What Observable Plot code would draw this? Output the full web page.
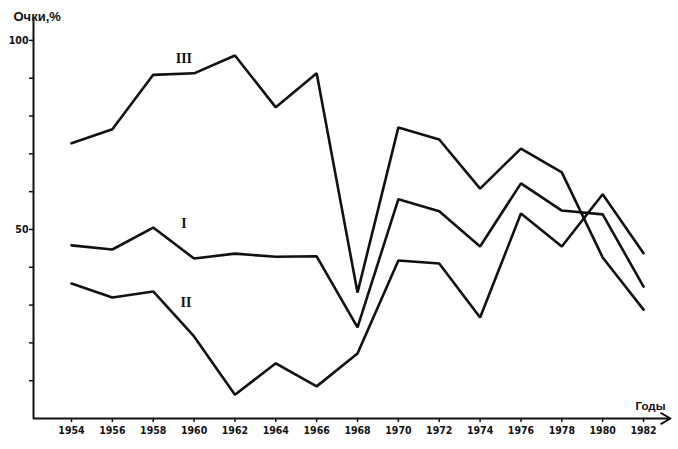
<!DOCTYPE html>
<html><head><meta charset="utf-8">
<script src="https://cdn.jsdelivr.net/npm/d3@7"></script>
<script src="https://cdn.jsdelivr.net/npm/@observablehq/plot@0.6"></script>
<style>body{margin:0;background:#fff}#chart svg{display:block}</style>
</head><body><div id="chart"></div>
<script>
const years = [1954,1956,1958,1960,1962,1964,1966,1968,1970,1972,1974,1976,1978,1980,1982];
const seriesI   = [45.8,44.7,50.5,42.3,43.6,42.8,42.9,24.1,58.0,54.8,45.5,62.2,55.0,54.0,34.9];
const seriesII  = [35.7,32.0,33.6,21.7, 6.3,14.6, 8.5,17.2,41.8,41.0,26.7,54.2,45.5,59.3,43.7];
const seriesIII = [72.8,76.5,90.9,91.3,96.0,82.3,91.3,33.3,77.0,73.8,60.8,71.4,65.1,42.6,28.8];
const seriesNames = ["I","II","III"];
const yTicks = [10,20,30,40,50,60,70,80,90,100];
const yTickLabels = [50,100];
const yTitle = "Очки,%";
const xTitle = "Годы";

const allSeries = [seriesI, seriesII, seriesIII];
const rows = [];
allSeries.forEach((vals, si) => vals.forEach((v, i) => rows.push({series: seriesNames[si], year: years[i], value: v})));

// label anchors (data units) for the Roman numerals
const labelAnchors = [
  {name: "I",   year: 1959.5, value: 51.6},
  {name: "II",  year: 1959.6, value: 30.7},
  {name: "III", year: 1959.5, value: 95.2}
];

const xDomain = [1952.14, 1983.32];
const yDomain = [0, 105.8];

const chart = Plot.plot({
  width: 678,
  height: 449,
  marginLeft: 33,
  marginRight: 8,
  marginTop: 18,
  marginBottom: 31,
  x: {domain: xDomain},
  y: {domain: yDomain},
  style: {fontFamily: "'Liberation Sans Narrow','DejaVu Sans Condensed',sans-serif", fontSize: "10.5px", fontWeight: "bold", color: "#111", background: "#fff"},
  marks: [
    Plot.axisX({ticks: years, tickFormat: d => String(d), tickSize: 4, tickPadding: 4, strokeWidth: 1.5, label: null}),
    Plot.axisY({ticks: yTicks, tickFormat: d => yTickLabels.includes(d) ? String(d) : "", tickSize: 4, tickPadding: 1, strokeWidth: 1.5, label: null}),
    Plot.ruleX([xDomain[0]], {stroke: "#111", strokeWidth: 2}),
    Plot.arrow([0], {x1: xDomain[0], x2: xDomain[1], y1: 0, y2: 0, stroke: "#111", strokeWidth: 1.8, headLength: 9, headAngle: 60}),
    Plot.line(rows, {x: "year", y: "value", z: "series", stroke: "#111", strokeWidth: 2.6, strokeLinejoin: "miter"}),
    Plot.text(labelAnchors, {x: "year", y: "value", text: "name", fontFamily: "'Liberation Serif','DejaVu Serif',serif", fontSize: 14, fontWeight: "bold", fill: "#111"}),
    Plot.text([yTitle], {frameAnchor: "top-left", text: d => d, textAnchor: "start", dx: -20, dy: -7, fontFamily: "'Liberation Sans','DejaVu Sans',sans-serif", fontSize: 13, fontWeight: "bold", fill: "#111"}),
    Plot.text([xTitle], {frameAnchor: "bottom-right", text: d => d, textAnchor: "end", dx: -5, dy: -9, fontFamily: "'Liberation Sans','DejaVu Sans',sans-serif", fontSize: 11.5, fontWeight: "bold", fill: "#111"})
  ]
});
document.getElementById("chart").append(chart);
</script>
</body></html>
